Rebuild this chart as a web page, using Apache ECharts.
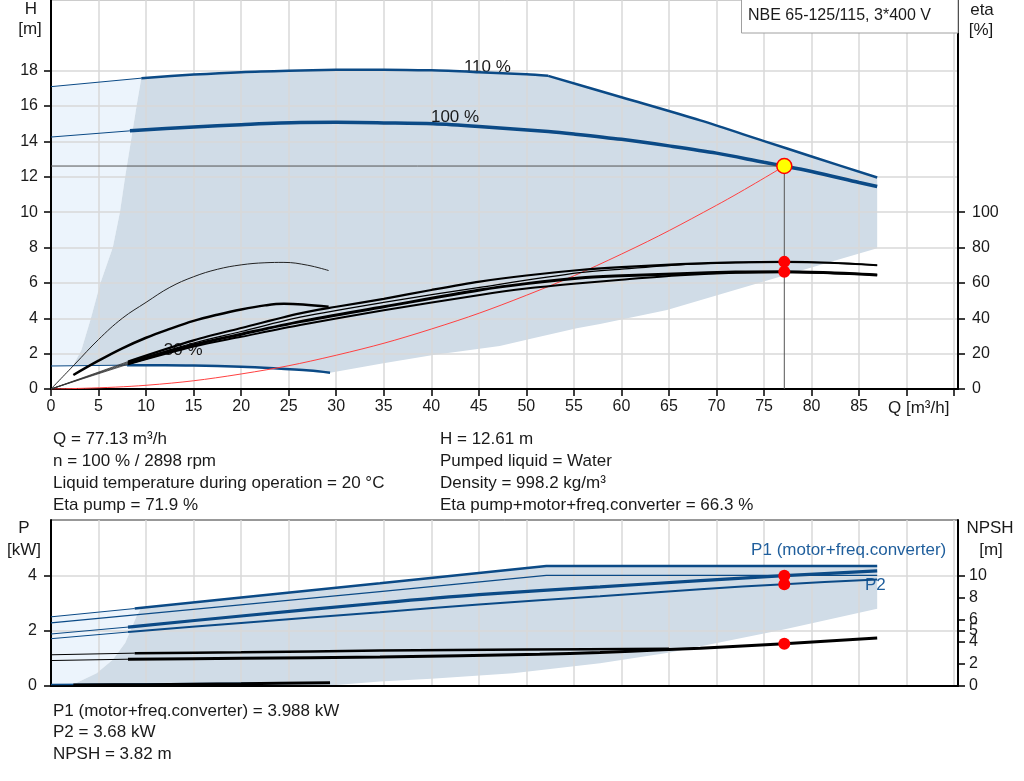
<!DOCTYPE html>
<html><head><meta charset="utf-8">
<script src="https://cdn.jsdelivr.net/npm/echarts@6/dist/echarts.min.js"></script>
<style>html,body{margin:0;padding:0;background:#fff}#c{width:1024px;height:781px}</style>
</head><body><div id="c"></div>
<script>
// ---------- axis ticks ----------
const Q_TICKS = [0,5,10,15,20,25,30,35,40,45,50,55,60,65,70,75,80,85,90,95];
const Q_LABELS = [0,5,10,15,20,25,30,35,40,45,50,55,60,65,70,75,80,85];
const H_TICKS = [0,2,4,6,8,10,12,14,16,18];
const ETA_TICKS = [0,20,40,60,80,100];
const P_TICKS = [0,2,4];
const NPSH_TICKS = [0,2,4,5,6,8,10];

// ---------- top chart: head curves [Q, H] ----------
const H110_THIN = [[0,17.1],[9.5,17.58]];
const H110_A = [[9.5,17.58],[15,17.78],[20,17.92],[25,18.0],[30,18.05],[35,18.06],[40,18.02],[45,17.92],[50,17.8],[52.3,17.71]];
const H110_B = [[52.3,17.71],[60,16.5],[68.3,15.19],[75,14.02],[80,13.15],[86.9,11.96]];
const H100_THIN = [[0,14.25],[8.3,14.6]];
const H100 = [[8.3,14.6],[15,14.82],[20,14.95],[26.2,15.07],[30,15.08],[35,15.05],[40.2,15.0],[45,14.85],[52.3,14.56],[55,14.42],[60,14.12],[65,13.75],[70,13.34],[75,12.82],[77.13,12.61],[80,12.3],[85,11.68],[86.9,11.45]];
const H30_THIN = [[0,1.3],[8,1.35]];
const H30 = [[8,1.35],[12,1.35],[15,1.33],[20,1.26],[23.4,1.17],[27.2,1.04],[29.35,0.92]];
const SYSTEM = [[0,0],[10,0.21],[20,0.85],[30,1.91],[40,3.39],[50,5.3],[60,7.63],[70,10.39],[77.13,12.61]];
const LEFT_EDGE_H = [[9.5,17.58],[9.0,16],[8.4,14],[7.8,12],[7.25,10],[6.5,8],[5.2,6],[4.2,4],[3.2,2.2],[2.35,1.35]];
const RIGHT_EDGE_H = [[86.9,11.96],[86.9,7.96]];
const BOTTOM_EDGE_H = [[86.9,7.96],[77.2,6.43],[64.8,4.47],[57.75,3.68],[55.3,3.43],[50.7,2.87],[47.2,2.43],[40.2,1.92],[34.96,1.45],[29.35,0.92]];
const DUTY = [77.13, 12.61];

// ---------- top chart: efficiency curves [Q, eta %] ----------
const ETA_PUMP_MIN = [[0,0],[2.5,14],[5,28],[7.5,40],[10,49],[12.5,57.5],[15,63.5],[17.5,67.7],[20,70.2],[22.5,71.4],[24.5,71.6],[27,70],[29.2,67]];
const ETA_TOT_MIN = [[2.35,7.9],[5,16],[7.5,23],[10,29],[12.5,34],[15,38.5],[17.5,42],[20,45],[22.5,47.3],[24.5,48.2],[26.5,47.8],[29.2,46.5]];
const ETA_A = [[8.1,15.5],[15,27.5],[20,34.5],[26.2,42.8],[30,46.5],[35,51],[40,56],[45.1,60.7],[50,64.2],[55.6,67.3],[60,68.9],[66.2,70.6],[72,71.6],[77.13,71.9],[82,71.4],[86.9,70.0]];
const ETA_B = [[8.1,15],[15,26],[20,32.5],[26.2,40.6],[35,49],[45.1,57.5],[55.6,65.8],[60,67.8],[66.2,70.2],[72,71.4],[77.13,71.9],[86.9,70.0]];
const ETA_C = [[8.1,14.5],[15,25],[20,31],[26.2,38.1],[35,46.5],[45.1,56.0],[50,59.6],[55.6,62.8],[60,64.0],[66.2,65.2],[72,66.1],[77.13,66.3],[82,65.7],[86.9,64.5]];
const ETA_D = [[8.1,14],[15,24],[20,29.5],[26.2,36.2],[35,44.5],[45.1,53.2],[50,56.8],[55.6,59.8],[60,61.8],[66.2,64.3],[72,65.8],[77.13,66.2],[86.9,64.5]];
const ETA_ORIGIN_ENDS = [15.5,15,14.5,14];
const ETA_ORIGIN_Q = 8.1;
const ETA_DUTY = [71.9, 66.3];

// ---------- bottom chart: power [Q, kW] ----------
const P1_110_THIN = [[0,2.5],[8.8,2.8]];
const P1_110 = [[8.8,2.8],[20,3.2],[34.6,3.71],[52.1,4.34],[86.9,4.34]];
const P2_110 = [[0,2.28],[34.6,3.41],[52.1,4.0],[86.9,4.0]];
const P1_100_THIN = [[0,1.88],[8.1,2.13]];
const P1_100 = [[8.1,2.13],[20,2.53],[34.6,3.0],[45,3.3],[57.75,3.58],[68.3,3.81],[77.13,3.988],[86.9,4.16]];
const P2_100_THIN = [[0,1.71],[8.1,1.95]];
const P2_100 = [[8.1,1.95],[20,2.28],[34.6,2.67],[45,2.95],[57.75,3.24],[68.3,3.5],[77.13,3.68],[86.9,3.85]];
const P_MIN = [[0,0.05],[29.35,0.12]];
const LEFT_EDGE_P = [[9.5,2.83],[9.0,2.52],[7.8,1.55],[6.5,0.95],[4.8,0.46],[3.2,0.2],[2.0,0]];
const BOTTOM_EDGE_P = [[86.9,4.34],[86.9,2.79],[77.2,2.05],[65.1,1.21],[57.75,0.82],[48.6,0.46],[40,0.26],[34.6,0.16],[30,0.04],[29,0]];
const P_DUTY = [3.988, 3.68];

// ---------- bottom chart: NPSH [Q, m] ----------
const N110_THIN = [[0,2.82],[8.8,2.97]];
const N110 = [[8.8,2.97],[20,3.05],[34.6,3.2],[50,3.3],[65,3.36]];
const N100_THIN = [[0,2.3],[8.1,2.42]];
const N100 = [[8.1,2.42],[20,2.5],[34.6,2.62],[51.4,2.88],[57.75,3.02],[64.3,3.28],[68.3,3.42],[77.13,3.82],[86.9,4.33]];
const NMIN = [[2.35,0.09],[10,0.12],[20,0.2],[29.35,0.3]];
const NPSH_DUTY = 3.82;

// ---------- texts ----------
const TITLE = 'NBE 65-125/115, 3*400 V';
const CURVE_LABELS_TOP = [['110 %',45.9,18.22],['100 %',42.5,15.39],['30 %',13.9,2.2]];
const CURVE_LABELS_BOT = [['P1 (motor+freq.converter)',83.9,4.91],['P2',86.7,3.64]];
const INFO_LEFT = ['Q = 77.13 m³/h','n = 100 % / 2898 rpm','Liquid temperature during operation = 20 °C','Eta pump = 71.9 %'];
const INFO_RIGHT = ['H = 12.61 m','Pumped liquid = Water','Density = 998.2 kg/m³','Eta pump+motor+freq.converter = 66.3 %'];
const INFO_BOTTOM = ['P1 (motor+freq.converter) = 3.988 kW','P2 = 3.68 kW','NPSH = 3.82 m'];

// ---------- styling ----------
const FONT = '"Liberation Sans", Arial, sans-serif';
const BLUE = '#0b4a86';
const BLUE_TXT = '#1f5e9c';
const GRIDC = '#d9d9d9';
const FILL_MAIN = '#d0dce7';
const FILL_LIGHT = '#ecf4fc';
const TXT = '#1a1a1a';

function line(data, xi, yi, color, width, smooth, z) {
  return {type:'line', data:data, xAxisIndex:xi, yAxisIndex:yi, symbol:'none', showSymbol:false,
    smooth: smooth === undefined ? 0.3 : smooth, silent:true, z: z || 3,
    lineStyle:{color:color, width:width}};
}
function poly(pts, xi, yi, color) {
  return {type:'custom', xAxisIndex:xi, yAxisIndex:yi, z:-1, silent:true, data:[pts[0]],
    renderItem:function(params, api){
      return {type:'polygon', shape:{points: pts.map(function(p){return api.coord(p);})}, style:{fill:color}};
    }};
}
function dots(data, xi, yi, size, fill, stroke) {
  return {type:'scatter', data:data, xAxisIndex:xi, yAxisIndex:yi, symbol:'circle', symbolSize:size, silent:true, z:6,
    itemStyle:{color:fill, opacity:1, borderColor:stroke || fill, borderWidth: stroke ? 1.5 : 0}};
}
function labels(list, xi, yi, color) {
  return {type:'scatter', xAxisIndex:xi, yAxisIndex:yi, symbolSize:1, silent:true, z:1,
    itemStyle:{color:'rgba(0,0,0,0)', opacity:1},
    data:list.map(function(d){return {name:d[0], value:[d[1], d[2]]};}),
    label:{show:true, position:'inside', formatter:'{b}', fontSize:17, fontFamily:FONT, color:color,
      opacity:1, textBorderWidth:0}};
}

const rev = function(a){ return a.slice().reverse(); };

// polygons built from the curve arrays
const LIGHT_TOP = [].concat([H30_THIN[0]], H110_THIN, LEFT_EDGE_H.slice(1), [H30_THIN[0]]);
const MAIN_TOP = [].concat(H110_A, H110_B.slice(1), RIGHT_EDGE_H.slice(1), BOTTOM_EDGE_H.slice(1), rev(H30).slice(1), rev(LEFT_EDGE_H));
const LIGHT_BOT = [].concat([[0,0]], P1_110_THIN, [LEFT_EDGE_P[0]], LEFT_EDGE_P.slice(1), [[0,0]]);
const MAIN_BOT = [].concat([LEFT_EDGE_P[0]], P1_110.filter(function(p){return p[0] > 9.5;}), BOTTOM_EDGE_P.slice(1), rev(LEFT_EDGE_P));

const axisLabelBase = {fontSize:16, fontFamily:FONT, color:TXT};
const axisLineBase = {show:true, onZero:false, lineStyle:{color:'#000', width:2}};

const series = [
  poly(LIGHT_TOP, 0, 0, FILL_LIGHT),
  poly(MAIN_TOP, 0, 0, FILL_MAIN),
  poly(LIGHT_BOT, 1, 2, FILL_LIGHT),
  poly(MAIN_BOT, 1, 2, FILL_MAIN),
  labels(CURVE_LABELS_TOP, 0, 0, TXT),
  labels(CURVE_LABELS_BOT, 1, 2, BLUE_TXT),
  // head curves
  line(H110_THIN, 0, 0, BLUE, 1, false),
  line(H110_A, 0, 0, BLUE, 2.5),
  line(H110_B, 0, 0, BLUE, 2.5),
  line(H100_THIN, 0, 0, BLUE, 1, false),
  line(H100, 0, 0, BLUE, 3.5),
  line(H30_THIN, 0, 0, BLUE, 1, false),
  line(H30, 0, 0, BLUE, 2.5),
  line(SYSTEM, 0, 0, '#ff4040', 1, 0.4),
  line([[0, DUTY[1]], DUTY], 0, 0, '#555', 1, false),
  line([DUTY, [DUTY[0], 0]], 0, 0, '#555', 1, false),
  // efficiency curves
  line(ETA_PUMP_MIN, 0, 1, '#222', 1, 0.4),
  line(ETA_TOT_MIN, 0, 1, '#000', 2.5, 0.4),
];
ETA_ORIGIN_ENDS.forEach(function(v){ series.push(line([[0,0],[ETA_ORIGIN_Q, v]], 0, 1, '#333', 0.8, false)); });
series.push(
  line(ETA_A, 0, 1, '#000', 2.2),
  line(ETA_B, 0, 1, '#000', 1.2),
  line(ETA_C, 0, 1, '#000', 3),
  line(ETA_D, 0, 1, '#000', 2),
  dots([[DUTY[0], ETA_DUTY[0]],[DUTY[0], ETA_DUTY[1]]], 0, 1, 12, '#ff0000'),
  dots([DUTY], 0, 0, 15, '#ffff00', '#ff0000'),
  // power curves
  line(P1_110_THIN, 1, 2, BLUE, 1, false),
  line(P1_110, 1, 2, BLUE, 2.5, false),
  line(P2_110, 1, 2, BLUE, 1.2, false),
  line(P1_100_THIN, 1, 2, BLUE, 1, false),
  line(P1_100, 1, 2, BLUE, 3.2),
  line(P2_100_THIN, 1, 2, BLUE, 1, false),
  line(P2_100, 1, 2, BLUE, 2),
  line(P_MIN, 1, 2, BLUE, 1.5, false),
  // NPSH curves
  line(N110_THIN, 1, 3, '#000', 1, false),
  line(N110, 1, 3, '#000', 2.5),
  line(N100_THIN, 1, 3, '#000', 1, false),
  line(N100, 1, 3, '#000', 3),
  line(NMIN, 1, 3, '#000', 3),
  dots([[DUTY[0], P_DUTY[0]],[DUTY[0], P_DUTY[1]]], 1, 2, 12, '#ff0000'),
  dots([[DUTY[0], NPSH_DUTY]], 1, 3, 12, '#ff0000')
);

function txt(x, y, s, opts) {
  opts = opts || {};
  return {type:'text', x:x, y:y, z:50, silent:true,
    style:{text:s, fontSize: opts.size || 17, fontFamily:FONT, fill: opts.color || TXT,
      align: opts.align || 'left', verticalAlign:'middle'}};
}
const graphic = [
  {type:'rect', z:40, silent:true, shape:{x:741.5, y:-1, width:216.5, height:34}, style:{fill:'#fff', stroke:'#a0a0a0', lineWidth:1}},
  txt(748, 16, TITLE, {size:16}),
  txt(31, 9, 'H', {align:'center'}), txt(30, 29, '[m]', {align:'center'}),
  txt(982, 10, 'eta', {align:'center'}), txt(981, 30, '[%]', {align:'center'}),
  txt(888, 408, 'Q [m³/h]'),
  txt(24, 528, 'P', {align:'center'}), txt(24, 550, '[kW]', {align:'center'}),
  txt(990, 528, 'NPSH', {align:'center'}), txt(991, 550, '[m]', {align:'center'})
];
INFO_LEFT.forEach(function(s, i){ graphic.push(txt(53, 439 + 22*i, s)); });
INFO_RIGHT.forEach(function(s, i){ graphic.push(txt(440, 439 + 22*i, s)); });
INFO_BOTTOM.forEach(function(s, i){ graphic.push(txt(53, 711 + 21.5*i, s)); });

const option = {
  animation:false,
  backgroundColor:'#fff',
  textStyle:{fontFamily:FONT},
  grid:[
    {left:51, right:66, top:0, height:389, show:true, borderColor:'#9a9a9a', borderWidth:1, backgroundColor:'transparent'},
    {left:51, right:66, top:520, height:166, show:true, borderColor:'#333', borderWidth:1, backgroundColor:'transparent'}
  ],
  xAxis:[
    {gridIndex:0, type:'value', min:0, max:95.4, interval:5,
      axisLine:axisLineBase,
      axisTick:{show:true, customValues:Q_TICKS, length:7, lineStyle:{color:'#000', width:1.5}},
      axisLabel:Object.assign({customValues:Q_LABELS, margin:10}, axisLabelBase),
      splitLine:{show:true, lineStyle:{color:GRIDC, width:1.5}}},
    {gridIndex:1, type:'value', min:0, max:95.4, interval:5,
      axisLine:axisLineBase, axisTick:{show:false}, axisLabel:{show:false},
      splitLine:{show:true, lineStyle:{color:GRIDC, width:1.5}}}
  ],
  yAxis:[
    {gridIndex:0, type:'value', position:'left', min:0, max:22, interval:2,
      axisLine:axisLineBase,
      axisTick:{show:true, customValues:H_TICKS, length:7, lineStyle:{color:'#000', width:1.5}},
      axisLabel:Object.assign({customValues:H_TICKS, margin:13}, axisLabelBase),
      splitLine:{show:true, lineStyle:{color:GRIDC, width:1.5}}},
    {gridIndex:0, type:'value', position:'right', min:0, max:220, interval:20,
      axisLine:axisLineBase,
      axisTick:{show:true, customValues:ETA_TICKS, length:7, lineStyle:{color:'#000', width:1.5}},
      axisLabel:Object.assign({customValues:ETA_TICKS, margin:14}, axisLabelBase),
      splitLine:{show:false}},
    {gridIndex:1, type:'value', position:'left', min:0, max:6, interval:2,
      axisLine:axisLineBase,
      axisTick:{show:true, customValues:P_TICKS, length:7, lineStyle:{color:'#000', width:1.5}},
      axisLabel:Object.assign({customValues:P_TICKS, margin:14}, axisLabelBase),
      splitLine:{show:true, lineStyle:{color:GRIDC, width:1.5}}},
    {gridIndex:1, type:'value', position:'right', min:0, max:15, interval:1,
      axisLine:axisLineBase,
      axisTick:{show:true, customValues:NPSH_TICKS, length:7, lineStyle:{color:'#000', width:1.5}},
      axisLabel:Object.assign({customValues:NPSH_TICKS, margin:11}, axisLabelBase),
      splitLine:{show:false}}
  ],
  series:series,
  graphic:graphic
};
const chart = echarts.init(document.getElementById('c'), null, {renderer:'canvas'});
chart.setOption(option);
</script></body></html>
